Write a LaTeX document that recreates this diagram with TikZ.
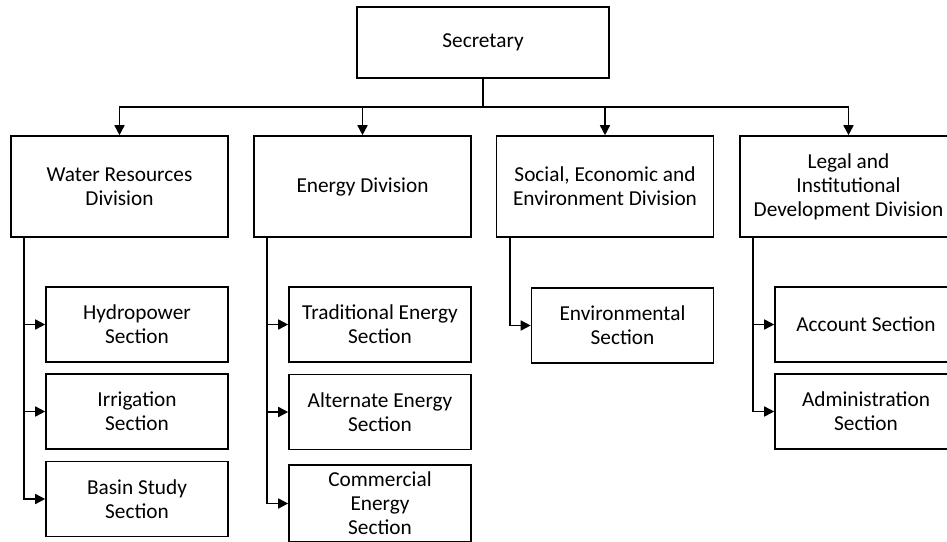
\documentclass[tikz,border=0pt]{standalone}
\usepackage{fontspec}
\setmainfont{Carlito}
\usetikzlibrary{arrows.meta}
\begin{document}
\begin{tikzpicture}[x=1pt,y=1pt,
  box/.style={draw, line width=1.6pt, rectangle, align=center, inner sep=0pt,
    font=\fontsize{21.3}{24}\selectfont},
  topbox/.style={box, minimum width=252pt, minimum height=71pt},
  divbox/.style={box, minimum width=217pt, minimum height=101pt},
  secbox/.style={box, minimum width=182pt, minimum height=75pt},
  link/.style={line width=1.6pt, -{Triangle[length=10pt,width=10pt]}},
  plain/.style={line width=1.6pt}]
\useasboundingbox (0,0) rectangle (947,-541);
\clip (0,0) rectangle (947,-541);

% top level
\node[topbox] (sec) at (483,-42.5) {Secretary};

% divisions
\node[divbox] (wr)  at (119.5,-186.5) {Water Resources\\Division};
\node[divbox] (en)  at (362.5,-186.5) {Energy Division};
\node[divbox] (soc) at (605,-186.5)   {Social, Economic and\\Environment Division};
\node[divbox] (leg) at (848.5,-186.5) {Legal and\\Institutional\\Development Division};

% sections
\node[secbox] (hyd) at (137,-324.5) {Hydropower\\Section};
\node[secbox] (irr) at (137,-411.5) {Irrigation\\Section};
\node[secbox] (bas) at (137,-499)   {Basin Study\\Section};

\node[secbox] (tra) at (380,-324.5) {Traditional Energy\\Section};
\node[secbox] (alt) at (380,-412)   {Alternate Energy\\Section};
\node[secbox, minimum height=77pt] (com) at (380,-503.5) {Commercial\\Energy\\Section};

\node[secbox] (env) at (622.5,-325.5) {Environmental\\Section};

\node[secbox] (acc) at (866,-324.5) {Account Section};
\node[secbox] (adm) at (866,-411.5) {Administration\\Section};

% bus below the secretary
\coordinate (bus) at (483,-107);
\draw[plain] (sec.south) -- (bus);
\foreach \d in {wr,en,soc,leg}
  \draw[link] (bus) -| (\d.north);

% spines down the left of each division
\coordinate (wrs)  at (24,-237);
\coordinate (ens)  at (267,-237);
\coordinate (socs) at (510,-237);
\coordinate (legs) at (753,-237);

\foreach \s in {hyd,irr,bas} \draw[link] (wrs) |- (\s.west);
\foreach \s in {tra,alt,com} \draw[link] (ens) |- (\s.west);
\draw[link] (socs) |- (env.west);
\foreach \s in {acc,adm} \draw[link] (legs) |- (\s.west);
\end{tikzpicture}
\end{document}
